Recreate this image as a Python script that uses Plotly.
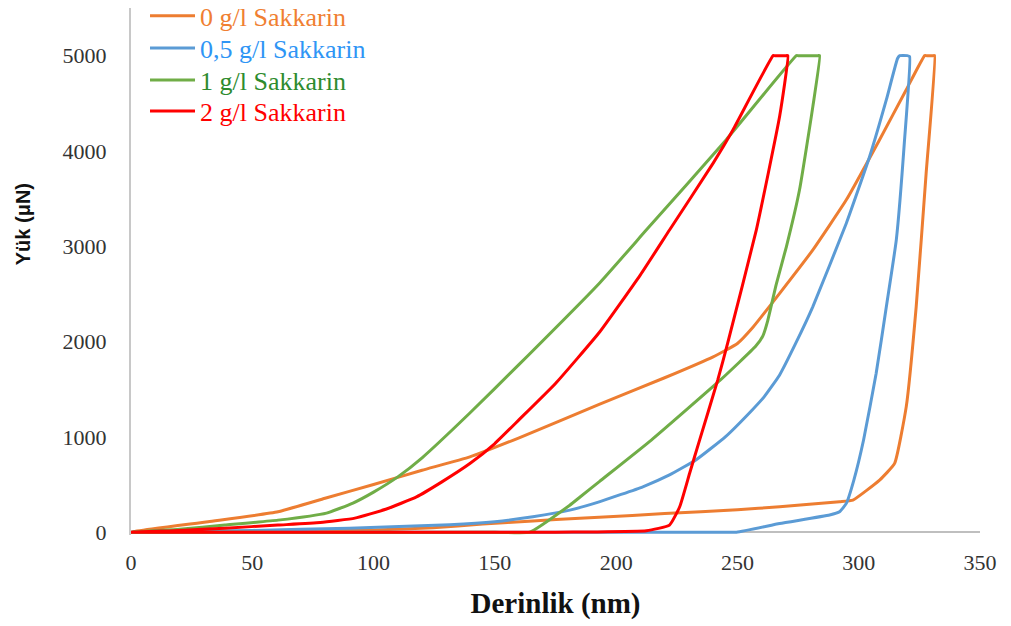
import plotly.graph_objects as go

# Load–depth curves (depth in nm, load in µN): loading, hold at peak, unloading
depth_0 = [0, 31.8, 60.6, 80, 100, 120, 139.7, 160, 193, 220, 240, 250, 256.4, 267.4,
           281.1, 294.9, 308.6, 319.6, 327.2, 328, 330.6, 331.3, 327.8, 323.7, 319.6,
           314.8, 308.6, 297.6, 292.1, 267.4, 250, 220, 193, 185, 165.7, 145, 124.5,
           100, 60, 0]
load_0 = [0, 110, 213, 355, 500, 650, 790, 990, 1340, 1620, 1840, 1980, 2150, 2506,
          2962, 3487, 4118, 4643, 5000, 5000, 5000, 5000, 3767, 2367, 1317,
          721, 546, 336, 319, 266, 235, 195, 156, 145, 118, 85, 45,
          22, 8, 0]

depth_05 = [0, 50, 90, 131.4, 150, 165.7, 180.9, 193, 211, 222, 233, 245, 256, 261,
            267.4, 274, 281.1, 294.9, 304.5, 311.4, 316, 316.9, 320, 321, 318.9,
            315.5, 311.4, 307.2, 302, 298, 294.9, 292.1, 288, 267.4, 249.6, 235, 0]
load_05 = [0, 18, 42, 78, 110, 161, 231, 318, 476, 600, 760, 1000, 1280, 1420,
           1650, 1980, 2367, 3242, 3942, 4538, 4970, 5000, 5000, 4990, 4118,
           3067, 2367, 1667, 966, 546, 302, 213, 179, 91, 0, 0, 0]

depth_1 = [0, 20, 38.7, 60.6, 80.6, 91.5, 100, 110, 120, 139.7, 160, 193.2, 212.5,
           245.4, 274.3, 275, 283.2, 283.9, 281.1, 275.6, 270.2, 266, 262.5, 260.5,
           257.5, 243, 214.5, 193.2, 185, 180.9, 164.4, 150, 0]
load_1 = [0, 30, 74, 126, 200, 305, 420, 580, 780, 1250, 1760, 2615, 3172,
          4118, 5000, 5000, 5000, 5000, 4468, 3592, 2997, 2600, 2220, 2060,
          1950, 1597, 966, 533, 366, 283, 0, 0, 0]

depth_2 = [0, 20, 38.7, 60.6, 78, 92.3, 105, 117.7, 128, 139.7, 150, 160, 175, 193.2,
           210, 222, 240, 248.2, 264.7, 265.4, 270.1, 270.8, 267.4, 257.8, 246,
           241.9, 234.4, 230.3, 226.2, 222, 212.5, 190, 175, 0]
load_2 = [0, 18, 42, 74, 100, 147, 240, 370, 525, 720, 930, 1180, 1560, 2100,
          2700, 3170, 3872, 4223, 5000, 5000, 5000, 5000, 4363, 3172, 1985,
          1597, 966, 618, 266, 74, 14, 2, 0, 0]

series_names = ["0 g/l Sakkarin", "0,5 g/l Sakkarin", "1 g/l Sakkarin", "2 g/l Sakkarin"]
line_colors = ["#ED7D31", "#5B9BD5", "#70AD47", "#FF0000"]
label_colors = ["#F07F32", "#2F95F5", "#2E8B2E", "#FF0000"]

x_ticks = [0, 50, 100, 150, 200, 250, 300, 350]
y_ticks = [0, 1000, 2000, 3000, 4000, 5000]

# one legend box per series, stacked in the upper-left corner
legend_ids = ["legend", "legend2", "legend3", "legend4"]
legend_rows = [0.985, 0.924, 0.863, 0.8046]

fig = go.Figure()
for xs, ys, name, lc, tc, lg in zip(
        [depth_0, depth_05, depth_1, depth_2],
        [load_0, load_05, load_1, load_2],
        series_names, line_colors, label_colors, legend_ids):
    fig.add_trace(go.Scatter(
        x=xs, y=ys, mode="lines", name=f'<span style="color:{tc}">{name}</span>',
        line=dict(color=lc, width=3, shape="spline", smoothing=0.4),
        hoverinfo="skip", legend=lg, showlegend=True))

legend_style = dict(x=0.0165, xanchor="left", yanchor="middle",
                    bgcolor="rgba(0,0,0,0)", borderwidth=0,
                    font=dict(family="Liberation Serif", size=26),
                    itemwidth=45)

fig.update_layout(
    width=1011, height=626,
    showlegend=True,
    margin=dict(l=131, r=31, t=8, b=91, autoexpand=False),
    paper_bgcolor="white", plot_bgcolor="white",
    font=dict(family="Liberation Serif", color="#333333"),
    xaxis=dict(range=[0, 350], tickvals=x_ticks, showgrid=False, zeroline=False,
               showline=False, ticks="", tickfont=dict(size=22, color="#333333"),
               ticklabelstandoff=12,
               title=dict(text="<b>Derinlik (nm)</b>", standoff=18,
                          font=dict(family="Liberation Serif", size=29, color="#111111"))),
    yaxis=dict(range=[-30, 5500], tickvals=y_ticks, showgrid=False,
               zeroline=True, zerolinecolor="#BFBFBF", zerolinewidth=2,
               showline=True, linecolor="#C8C8C8", linewidth=2, layer="below traces",
               ticks="", tickfont=dict(size=22, color="#333333"),
               ticklabelstandoff=18),
    annotations=[dict(
        text="<b>Yük (μN)</b>", xref="paper", yref="paper",
        x=-0.127, y=0.59, xanchor="center", yanchor="middle",
        textangle=-90, showarrow=False,
        font=dict(family="Liberation Sans", size=20, color="#111111"))],
)
for lg, row in zip(legend_ids, legend_rows):
    fig.update_layout({lg: dict(legend_style, y=row)})

fig.write_html("out.html")
